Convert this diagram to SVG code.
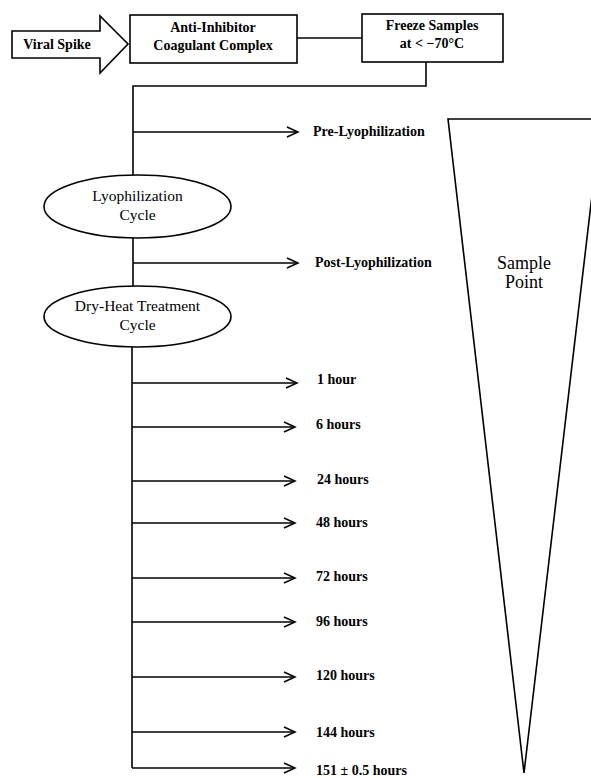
<svg xmlns="http://www.w3.org/2000/svg" width="591" height="778" viewBox="0 0 591 778">
<style>
.s{fill:none;stroke:#000;stroke-width:1.6}
.b{fill:#fff;stroke:#000;stroke-width:1.6}
text{font-family:"Liberation Serif","Times New Roman",serif;font-size:14px;fill:#000}
.bd{font-weight:bold}
.c{text-anchor:middle}
.el{font-size:15.5px}
.big{font-family:"Liberation Serif","Times New Roman",serif;font-size:18px}
</style>
<defs>
<marker id="ah" markerWidth="14" markerHeight="12" refX="12" refY="6" orient="auto" markerUnits="userSpaceOnUse">
<path d="M1,1 L12,6 L1,11" fill="none" stroke="#000" stroke-width="1.5"/>
</marker>
</defs>
<rect width="591" height="778" fill="#fff"/>
<g id="viral-spike">
<path class="b" d="M12,31 L100,31 L100,16 L128,44 L100,73 L100,58 L12,58 Z"/>
<text class="bd c" x="57" y="49">Viral Spike</text>
</g>
<g id="aicc">
<rect class="b" x="130" y="15" width="167" height="48"/>
<text class="bd c" x="213" y="32">Anti-Inhibitor</text>
<text class="bd c" x="213" y="50">Coagulant Complex</text>
</g>
<g id="freeze">
<rect class="b" x="362" y="14" width="141" height="48"/>
<text class="bd c" x="432" y="30">Freeze Samples</text>
<text class="bd c" x="432" y="48">at &lt; −70°C</text>
</g>
<g id="connectors">
<path class="s" d="M297,38 L362,38"/>
<path class="s" d="M426,62 L426,86 L133,86 L133,175"/>
<path class="s" d="M133,238 L133,286"/>
<path class="s" d="M132,347 L132,768"/>
<path class="s" marker-end="url(#ah)" d="M133,132 L298,132"/>
<path class="s" marker-end="url(#ah)" d="M133,263 L298,263"/>
<path class="s" marker-end="url(#ah)" d="M132,383 L297,383"/>
<path class="s" marker-end="url(#ah)" d="M132,427 L295,427"/>
<path class="s" marker-end="url(#ah)" d="M132,481 L295,481"/>
<path class="s" marker-end="url(#ah)" d="M132,523 L295,523"/>
<path class="s" marker-end="url(#ah)" d="M132,578 L295,578"/>
<path class="s" marker-end="url(#ah)" d="M132,622 L295,622"/>
<path class="s" marker-end="url(#ah)" d="M132,677 L295,677"/>
<path class="s" marker-end="url(#ah)" d="M132,732 L295,732"/>
<path class="s" marker-end="url(#ah)" d="M132,768 L295,768"/>
</g>
<g id="lyo">
<ellipse class="b" cx="137.5" cy="206.5" rx="93.5" ry="31.5"/>
<text class="c el" x="137.5" y="201">Lyophilization</text>
<text class="c el" x="137.5" y="220">Cycle</text>
</g>
<g id="dryheat">
<ellipse class="b" cx="137.5" cy="316.5" rx="93.5" ry="30.5"/>
<text class="c el" x="137.5" y="311">Dry-Heat Treatment</text>
<text class="c el" x="137.5" y="330">Cycle</text>
</g>
<g id="labels">
<text class="bd" x="313" y="136">Pre-Lyophilization</text>
<text class="bd" x="315" y="267">Post-Lyophilization</text>
<text class="bd" x="317" y="384">1 hour</text>
<text class="bd" x="316" y="429">6 hours</text>
<text class="bd" x="317" y="484">24 hours</text>
<text class="bd" x="316" y="527">48 hours</text>
<text class="bd" x="316" y="581">72 hours</text>
<text class="bd" x="316" y="626">96 hours</text>
<text class="bd" x="316" y="680">120 hours</text>
<text class="bd" x="316" y="737">144 hours</text>
<text class="bd" x="316" y="775">151 ± 0.5 hours</text>
</g>
<g id="sample-point">
<path class="b" d="M448,119 L601,119 L524,773 Z"/>
<text class="c big" x="524" y="269">Sample</text>
<text class="c big" x="524" y="288">Point</text>
</g>
</svg>
